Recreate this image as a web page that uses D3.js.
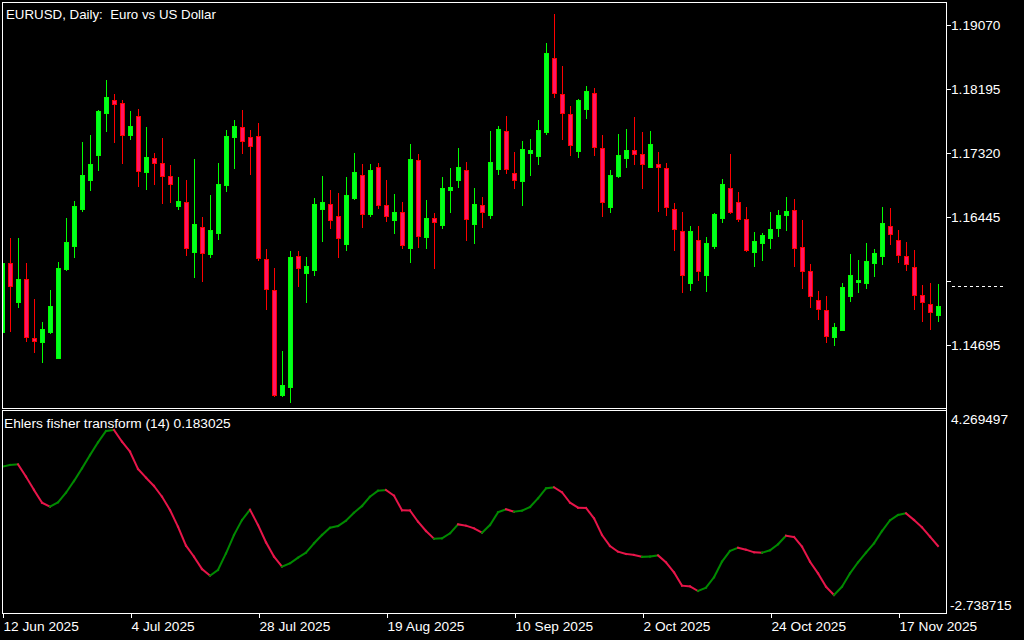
<!DOCTYPE html>
<html><head><meta charset="utf-8">
<script src="https://cdn.jsdelivr.net/npm/d3@7"></script>
<style>html,body{margin:0;padding:0;background:#000;overflow:hidden}</style>
</head><body><svg id="c" width="1024" height="640"></svg>
<script>
// ---- data (daily EURUSD bars, first bar = 12 Jun 2025) ----
const opens=[1.14863,1.15802,1.15273,1.15584,1.14777,1.14726,1.14859,1.14508,1.15716,1.16039,1.16545,1.16941,1.17283,1.17857,1.18031,1.17990,1.17556,1.17812,1.17051,1.17238,1.17170,1.16992,1.16586,1.16636,1.15957,1.16295,1.15929,1.16217,1.16873,1.17529,1.17662,1.17525,1.17539,1.15857,1.15433,1.13998,1.14107,1.15898,1.15670,1.15711,1.16545,1.16609,1.16445,1.16066,1.16691,1.17005,1.16476,1.17115,1.16595,1.16394,1.16500,1.16012,1.17211,1.16162,1.16418,1.16326,1.16805,1.16941,1.17074,1.16340,1.16595,1.16463,1.17092,1.17607,1.17033,1.16928,1.17310,1.17269,1.17598,1.18605,1.18113,1.17840,1.17338,1.17912,1.18127,1.17375,1.16572,1.16996,1.17242,1.17347,1.17293,1.17119,1.17156,1.17101,1.16541,1.16240,1.15533,1.16117,1.15642,1.16039,1.16422,1.16828,1.16636,1.16404,1.15957,1.16080,1.16148,1.16285,1.16463,1.16527,1.16021,1.15693,1.15297,1.15160,1.14795,1.14890,1.15355,1.15549,1.15533,1.15807,1.15902,1.16308,1.16117,1.15898,1.15748,1.15365,1.15242,1.15096];
const highs=[1.15816,1.16144,1.16144,1.15802,1.15310,1.14996,1.15433,1.15816,1.16418,1.16650,1.17457,1.17552,1.17894,1.18304,1.18113,1.18031,1.17880,1.17908,1.17662,1.17306,1.17511,1.17142,1.16978,1.16937,1.17224,1.16431,1.16732,1.17170,1.17621,1.17757,1.17894,1.17621,1.17716,1.15994,1.15734,1.14599,1.15966,1.15966,1.15884,1.16691,1.16992,1.16800,1.16759,1.16978,1.17306,1.17156,1.17156,1.17170,1.16937,1.16746,1.16636,1.17429,1.17293,1.16664,1.16486,1.16978,1.17101,1.17375,1.17183,1.16828,1.16705,1.17607,1.17675,1.17812,1.17320,1.17470,1.17498,1.17757,1.18810,1.19207,1.18496,1.17949,1.18045,1.18222,1.18195,1.17552,1.17074,1.17566,1.17634,1.17799,1.17593,1.17607,1.17320,1.17170,1.16623,1.16500,1.16308,1.16308,1.16158,1.16486,1.16951,1.17293,1.16773,1.16568,1.16226,1.16213,1.16500,1.16527,1.16705,1.16677,1.16390,1.15789,1.15420,1.15351,1.14982,1.15529,1.15925,1.15843,1.16076,1.15994,1.16568,1.16554,1.16253,1.16089,1.15980,1.15502,1.15529,1.15515];
const lows=[1.14859,1.14877,1.15205,1.14736,1.14590,1.14453,1.14849,1.14504,1.15707,1.15888,1.16517,1.16800,1.17074,1.17611,1.17461,1.17174,1.17502,1.16859,1.16818,1.16887,1.16623,1.16636,1.16541,1.15912,1.15615,1.15560,1.15888,1.16135,1.16791,1.17105,1.17302,1.17023,1.15843,1.15173,1.13984,1.13984,1.13902,1.15488,1.15269,1.15638,1.16103,1.16281,1.15884,1.15984,1.16677,1.16295,1.16445,1.16558,1.16381,1.16217,1.16012,1.15820,1.16025,1.16012,1.15738,1.16285,1.16504,1.16846,1.16121,1.16080,1.16299,1.16422,1.17023,1.17037,1.16832,1.16599,1.17010,1.17160,1.17570,1.18076,1.17502,1.17283,1.17256,1.17789,1.17283,1.16449,1.16504,1.16982,1.17119,1.17160,1.16832,1.17115,1.16517,1.16463,1.15984,1.15410,1.15437,1.15574,1.15424,1.16007,1.16367,1.16490,1.16381,1.15971,1.15766,1.15848,1.16012,1.16176,1.16258,1.15766,1.15465,1.15205,1.15041,1.14726,1.14685,1.14886,1.15287,1.15410,1.15465,1.15629,1.15793,1.16066,1.15820,1.15711,1.15178,1.15013,1.14904,1.15013];
const closes=[1.15798,1.15492,1.15584,1.14786,1.14740,1.14900,1.15214,1.15734,1.16089,1.16582,1.17005,1.17156,1.17880,1.18072,1.17980,1.17556,1.17675,1.17064,1.17252,1.17174,1.16996,1.16887,1.16650,1.16012,1.16336,1.15943,1.16253,1.16882,1.17539,1.17675,1.17474,1.17406,1.15864,1.15443,1.13998,1.14134,1.15884,1.15738,1.15761,1.16609,1.16636,1.16394,1.16148,1.16732,1.17047,1.16476,1.17074,1.16599,1.16449,1.16500,1.16053,1.17224,1.16176,1.16418,1.16367,1.16828,1.16841,1.17115,1.16408,1.16609,1.16504,1.17183,1.17634,1.17092,1.16941,1.17361,1.17347,1.17621,1.18673,1.18131,1.17857,1.17420,1.18031,1.18154,1.17384,1.16640,1.17005,1.17279,1.17347,1.17297,1.17160,1.17429,1.17119,1.16572,1.16271,1.15642,1.16240,1.15697,1.16076,1.16472,1.16882,1.16504,1.16408,1.15984,1.16103,1.16185,1.16267,1.16459,1.16513,1.16012,1.15689,1.15355,1.15178,1.14808,1.14927,1.15474,1.15638,1.15570,1.15830,1.15939,1.16349,1.16203,1.15916,1.15793,1.15369,1.15273,1.15137,1.15214];
const fisher=[2.312,2.371,2.395,1.967,1.508,1.069,0.931,1.083,1.414,1.818,2.257,2.716,3.154,3.544,3.579,3.175,2.830,2.233,1.932,1.646,1.276,0.817,0.241,-0.415,-0.795,-1.220,-1.451,-1.254,-0.678,-0.046,0.472,0.828,0.299,-0.298,-0.795,-1.140,-1.023,-0.830,-0.657,-0.332,-0.046,0.206,0.265,0.448,0.724,0.955,1.276,1.483,1.508,1.311,0.807,0.800,0.413,0.092,-0.174,-0.160,0.013,0.323,0.275,0.185,0.033,0.299,0.738,0.841,0.758,0.793,0.921,1.221,1.566,1.601,1.428,1.069,0.897,0.890,0.531,-0.046,-0.426,-0.622,-0.702,-0.736,-0.800,-0.790,-0.747,-0.988,-1.334,-1.796,-1.817,-1.979,-1.865,-1.506,-0.968,-0.598,-0.484,-0.553,-0.643,-0.660,-0.574,-0.367,-0.070,-0.115,-0.450,-0.968,-1.368,-1.831,-2.117,-1.831,-1.368,-0.988,-0.657,-0.332,0.092,0.462,0.645,0.703,0.472,0.220,-0.105,-0.426];
const priceTicks=[1.19070,1.18195,1.17320,1.16445,1.15570,1.14695];
const dateTickLabels=["12 Jun 2025","4 Jul 2025","28 Jul 2025","19 Aug 2025","10 Sep 2025","2 Oct 2025","24 Oct 2025","17 Nov 2025"];
const fisherScale=[-2.738715,4.269497];
const title="EURUSD, Daily:  Euro vs US Dollar";
const indicatorLabel="Ehlers fisher transform (14) 0.183025";

// ---- category axis: trading days ----
const dates=[];
for(let d=new Date(2025,5,12); dates.length<opens.length; d.setDate(d.getDate()+1)){
  if(d.getDay()!==0 && d.getDay()!==6) dates.push(new Date(d));
}
const fmt=d3.timeFormat("%-d %b %Y");
const cats=dates.map(fmt);

const L=2,R=946,T=2,MB=408,IT=410,IB=613;
const FONT="'Liberation Sans', Arial, sans-serif";
const svg=d3.select("#c");
svg.append("rect").attr("width",1024).attr("height",640).attr("fill","#000");

const x=d3.scalePoint().domain(cats).range([2,938]);
const y=d3.scaleLinear().domain([1.14695,1.19070]).range([344,24]);
const yf=d3.scaleLinear().domain(fisherScale).range([IB,IT]);

const defs=svg.append("defs");
defs.append("clipPath").attr("id","cm").append("rect").attr("x",L+1).attr("y",T+1).attr("width",R-L-1).attr("height",MB-T-1);
defs.append("clipPath").attr("id","ci").append("rect").attr("x",L+1).attr("y",IT+1).attr("width",R-L-1).attr("height",IB-IT-1);

// ---- candles ----
const UP_B="#00ff00",UP_F="#00ff22",DN_B="#ff0000",DN_F="#ff1464";
const gc=svg.append("g").attr("clip-path","url(#cm)").attr("shape-rendering","crispEdges");
cats.forEach((c,i)=>{
  const cx=Math.round(x(c));
  const o=opens[i],h=highs[i],l=lows[i],cl=closes[i];
  const up=cl>=o;
  const bc=up?UP_B:DN_B, fc=up?UP_F:DN_F;
  const yh=Math.round(y(h)), yl=Math.round(y(l));
  const yt=Math.round(y(Math.max(o,cl))), yb=Math.round(y(Math.min(o,cl)));
  gc.append("rect").attr("x",cx).attr("y",yh).attr("width",1).attr("height",Math.max(1,yl-yh+1)).attr("fill",bc);
  const bh=Math.max(2,yb-yt+1);
  gc.append("rect").attr("x",cx-2).attr("y",yt).attr("width",5).attr("height",bh).attr("fill",bc);
  if(bh>2) gc.append("rect").attr("x",cx-1).attr("y",yt+1).attr("width",3).attr("height",bh-2).attr("fill",fc);
});

// ---- fisher line ----
const gf=svg.append("g").attr("clip-path","url(#ci)");
const line=d3.line().x(d=>x(d[0])).y(d=>yf(d[1]));
for(let i=1;i<fisher.length;i++){
  gf.append("path").attr("d",line([[cats[i-1],fisher[i-1]],[cats[i],fisher[i]]]))
    .attr("fill","none").attr("stroke",fisher[i]>fisher[i-1]?"#008a00":"#e8154a")
    .attr("stroke-width",2).attr("stroke-linecap","square");
}

// ---- frames ----
const fr=svg.append("g").attr("stroke","#fff").attr("stroke-width",1).attr("shape-rendering","crispEdges");
[[L,T+.5,R+1,T+.5],[L,MB+.5,R+1,MB+.5],[L,IT+.5,R+1,IT+.5],[L,IB+.5,R+1,IB+.5],
 [L+.5,T,L+.5,MB+1],[L+.5,IT,L+.5,IB+1],[R+.5,T,R+.5,IB+1]].forEach(s=>{
  fr.append("line").attr("x1",s[0]).attr("y1",s[1]).attr("x2",s[2]).attr("y2",s[3]);
});

// ---- price axis ----
const ya=svg.append("g").attr("transform",`translate(${R+.5},0)`)
  .call(d3.axisRight(y).tickValues(priceTicks).tickSize(4).tickFormat(d3.format(".5f")));
ya.select(".domain").remove();
ya.selectAll("line").attr("stroke","#fff").attr("shape-rendering","crispEdges")
  .attr("transform","translate(0,0.5)");
ya.selectAll("text").attr("fill","#fff").attr("font-family",FONT).attr("font-size","13.7px")
  .attr("x",4.5).attr("dy",null).attr("y",5.5).attr("text-anchor","start")
  .text(d=>d===1.15570?"":d3.format(".5f")(d));
// obscured label at mid tick
svg.append("line").attr("x1",952).attr("x2",1004).attr("y1",y(1.15570)+6.5).attr("y2",y(1.15570)+6.5)
  .attr("stroke","#fff").attr("stroke-dasharray","3,3").attr("shape-rendering","crispEdges");

// ---- date axis ----
const xa=svg.append("g").attr("transform",`translate(0.5,${IB+.5})`)
  .call(d3.axisBottom(x).tickValues(dateTickLabels).tickSize(4));
xa.select(".domain").remove();
xa.selectAll("line").attr("stroke","#fff").attr("shape-rendering","crispEdges");
xa.selectAll("text").attr("fill","#fff").attr("font-family",FONT).attr("font-size","13.7px")
  .attr("text-anchor","start").attr("x",0.5).attr("dy",null).attr("y",17.3);

// ---- indicator scale labels ----
svg.append("text").attr("x",951).attr("y",424).attr("fill","#fff").attr("font-family",FONT).attr("font-size","13.7px").text(fisherScale[1].toFixed(6));
svg.append("text").attr("x",950).attr("y",610).attr("fill","#fff").attr("font-family",FONT).attr("font-size","13.7px").text(fisherScale[0].toFixed(6));

// ---- titles ----
svg.append("text").attr("x",6).attr("y",18.5).attr("fill","#fff").attr("font-family",FONT).attr("font-size","13.3px")
  .attr("xml:space","preserve").style("white-space","pre").text(title);
svg.append("text").attr("x",4).attr("y",428).attr("fill","#fff").attr("font-family",FONT).attr("font-size","13.7px").text(indicatorLabel);
</script></body></html>
